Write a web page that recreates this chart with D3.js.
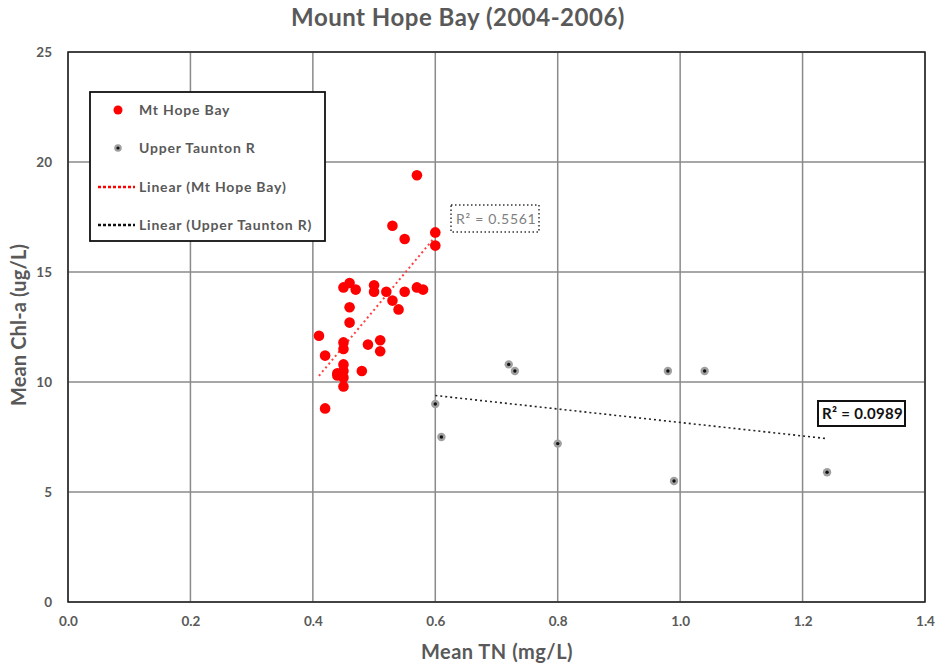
<!DOCTYPE html>
<html><head><meta charset="utf-8">
<script src="https://cdn.jsdelivr.net/npm/d3@7"></script>
<style>body{margin:0;background:#fff}svg{display:block}text{font-family:Lato,"Open Sans",sans-serif}</style>
</head><body>
<svg id="c" width="935" height="666"></svg>
<script>
const title = "Mount Hope Bay (2004-2006)";
const xTitle = "Mean TN (mg/L)";
const yTitle = "Mean Chl-a (ug/L)";
const xTicks = [0, 0.2, 0.4, 0.6, 0.8, 1.0, 1.2, 1.4];
const yTicks = [0, 5, 10, 15, 20, 25];
const seriesNames = ["Mt Hope Bay", "Upper Taunton R", "Linear (Mt Hope Bay)", "Linear (Upper Taunton R)"];
const r2Labels = ["R² = 0.5561", "R² = 0.0989"];
const hopeTN  = [0.57,0.53,0.55,0.60,0.60,0.45,0.46,0.47,0.50,0.50,0.52,0.55,0.57,0.58,0.53,0.46,0.54,0.46,0.41,0.45,0.51,0.49,0.45,0.51,0.42,0.45,0.44,0.45,0.48,0.45,0.44,0.45,0.42];
const hopeChl = [19.4,17.1,16.5,16.8,16.2,14.3,14.5,14.2,14.4,14.1,14.1,14.1,14.3,14.2,13.7,13.4,13.3,12.7,12.1,11.8,11.9,11.7,11.5,11.4,11.2,10.8,10.4,10.5,10.5,10.2,10.3,9.8,8.8];
const tauntonTN  = [0.72,0.73,0.98,1.04,0.60,0.61,0.80,0.99,1.24];
const tauntonChl = [10.8,10.5,10.5,10.5,9.0,7.5,7.2,5.5,5.9];

const svg = d3.select("#c");
const L = 68, R = 925, T = 52, B = 602;
const x = d3.scaleLinear().domain([0, 1.4]).range([L, R]);
const y = d3.scaleLinear().domain([0, 25]).range([B, T]);
const txt = "#595959";

// grid
svg.append("g").selectAll("line.v").data(xTicks).join("line")
  .attr("x1", d => x(d)).attr("x2", d => x(d)).attr("y1", T).attr("y2", B)
  .attr("stroke", "#8a8a8a").attr("stroke-width", 1.5);
svg.append("g").selectAll("line.h").data(yTicks).join("line")
  .attr("x1", L).attr("x2", R).attr("y1", d => y(d)).attr("y2", d => y(d))
  .attr("stroke", "#8a8a8a").attr("stroke-width", 1.5);
svg.append("rect").attr("x", L).attr("y", T).attr("width", R - L).attr("height", B - T)
  .attr("fill", "none").attr("stroke", "#222").attr("stroke-width", 1.5);

// axes labels
const xa = d3.axisBottom(x).tickValues(xTicks).tickFormat(d3.format(".1f")).tickSize(0).tickPadding(14);
const gx = svg.append("g").attr("transform", `translate(0,${B})`).call(xa);
const ya = d3.axisLeft(y).tickValues(yTicks).tickFormat(d3.format("d")).tickSize(0).tickPadding(16);
const gy = svg.append("g").attr("transform", `translate(${L},0)`).call(ya);
[gx, gy].forEach(g => {
  g.select(".domain").remove();
  g.selectAll("text").attr("fill", txt).style("font-size", "13.5px").style("font-weight", "bold")
   .style("font-family", "Lato, sans-serif");
});

svg.append("text").attr("x", 458).attr("y", 26).attr("text-anchor", "middle")
  .attr("fill", txt).style("font-size", "24px").style("font-weight", "bold")
  .style("letter-spacing", "0.5px").text(title);
svg.append("text").attr("x", 497).attr("y", 659).attr("text-anchor", "middle")
  .attr("fill", txt).style("font-size", "20px").style("font-weight", "bold")
  .style("letter-spacing", "0.5px").text(xTitle);
svg.append("text").attr("transform", "translate(26,325) rotate(-90)").attr("text-anchor", "middle")
  .attr("fill", txt).style("font-size", "20px").style("font-weight", "bold")
  .style("letter-spacing", "0.15px").text(yTitle);

// regression
function fit(xs, ys) {
  const mx = d3.mean(xs), my = d3.mean(ys);
  let sxy = 0, sxx = 0;
  xs.forEach((v, i) => { sxy += (v - mx) * (ys[i] - my); sxx += (v - mx) ** 2; });
  const b = sxy / sxx, a = my - b * mx;
  const x0 = d3.min(xs), x1 = d3.max(xs);
  return [[x0, a + b * x0], [x1, a + b * x1]];
}
const f1 = fit(hopeTN, hopeChl), f2 = fit(tauntonTN, tauntonChl);
const line = d3.line().x(d => x(d[0])).y(d => y(d[1]));
svg.append("path").attr("d", line(f1)).attr("stroke", "#ff4040").attr("stroke-width", 2)
  .attr("stroke-dasharray", "2,3").attr("fill", "none");
svg.append("path").attr("d", line(f2)).attr("stroke", "#222").attr("stroke-width", 1.6)
  .attr("stroke-dasharray", "2,3").attr("fill", "none");

// points
svg.append("g").selectAll("circle").data(hopeTN.map((v, i) => [v, hopeChl[i]])).join("circle")
  .attr("cx", d => x(d[0])).attr("cy", d => y(d[1])).attr("r", 5.3).attr("fill", "#ff0000");
const tp = tauntonTN.map((v, i) => [v, tauntonChl[i]]);
svg.append("g").selectAll("circle").data(tp).join("circle")
  .attr("cx", d => x(d[0])).attr("cy", d => y(d[1])).attr("r", 4.2).attr("fill", "#a0a0a0");
svg.append("g").selectAll("circle").data(tp).join("circle")
  .attr("cx", d => x(d[0])).attr("cy", d => y(d[1])).attr("r", 1.7).attr("fill", "#111");

// R2 labels
svg.append("rect").attr("x", 451).attr("y", 205).attr("width", 88).attr("height", 27)
  .attr("fill", "#fff").attr("stroke", "#333").attr("stroke-width", 1.5).attr("stroke-dasharray", "1.5,2.5");
svg.append("text").attr("x", 456).attr("y", 224).attr("fill", "#7f7f7f")
  .style("font-size", "14px").style("letter-spacing", "0.7px").text(r2Labels[0]);
svg.append("rect").attr("x", 818).attr("y", 401).attr("width", 87).attr("height", 25)
  .attr("fill", "#fff").attr("stroke", "#111").attr("stroke-width", 2);
svg.append("text").attr("x", 822).attr("y", 419).attr("fill", "#111")
  .style("font-size", "15px").style("font-weight", "bold").style("letter-spacing", "0.3px").text(r2Labels[1]);

// legend
const lg = svg.append("g");
lg.append("rect").attr("x", 90).attr("y", 92).attr("width", 235).attr("height", 149)
  .attr("fill", "#fff").attr("stroke", "#111").attr("stroke-width", 1.8);
const rows = [110, 148, 187, 225];
lg.append("circle").attr("cx", 118).attr("cy", rows[0]).attr("r", 4.5).attr("fill", "#ff0000");
lg.append("circle").attr("cx", 118).attr("cy", rows[1]).attr("r", 3.8).attr("fill", "#a0a0a0");
lg.append("circle").attr("cx", 118).attr("cy", rows[1]).attr("r", 1.6).attr("fill", "#111");
lg.append("line").attr("x1", 98).attr("x2", 135).attr("y1", rows[2]).attr("y2", rows[2])
  .attr("stroke", "#ff0000").attr("stroke-width", 2.5).attr("stroke-dasharray", "3,2");
lg.append("line").attr("x1", 98).attr("x2", 135).attr("y1", rows[3]).attr("y2", rows[3])
  .attr("stroke", "#111").attr("stroke-width", 2.5).attr("stroke-dasharray", "3,2");
lg.selectAll("text.l").data(seriesNames).join("text")
  .attr("x", 139).attr("y", (d, i) => rows[i] + 5).attr("fill", txt)
  .style("font-size", "14px").style("font-weight", "bold").style("letter-spacing", "0.8px").text(d => d);
</script>
</body></html>
